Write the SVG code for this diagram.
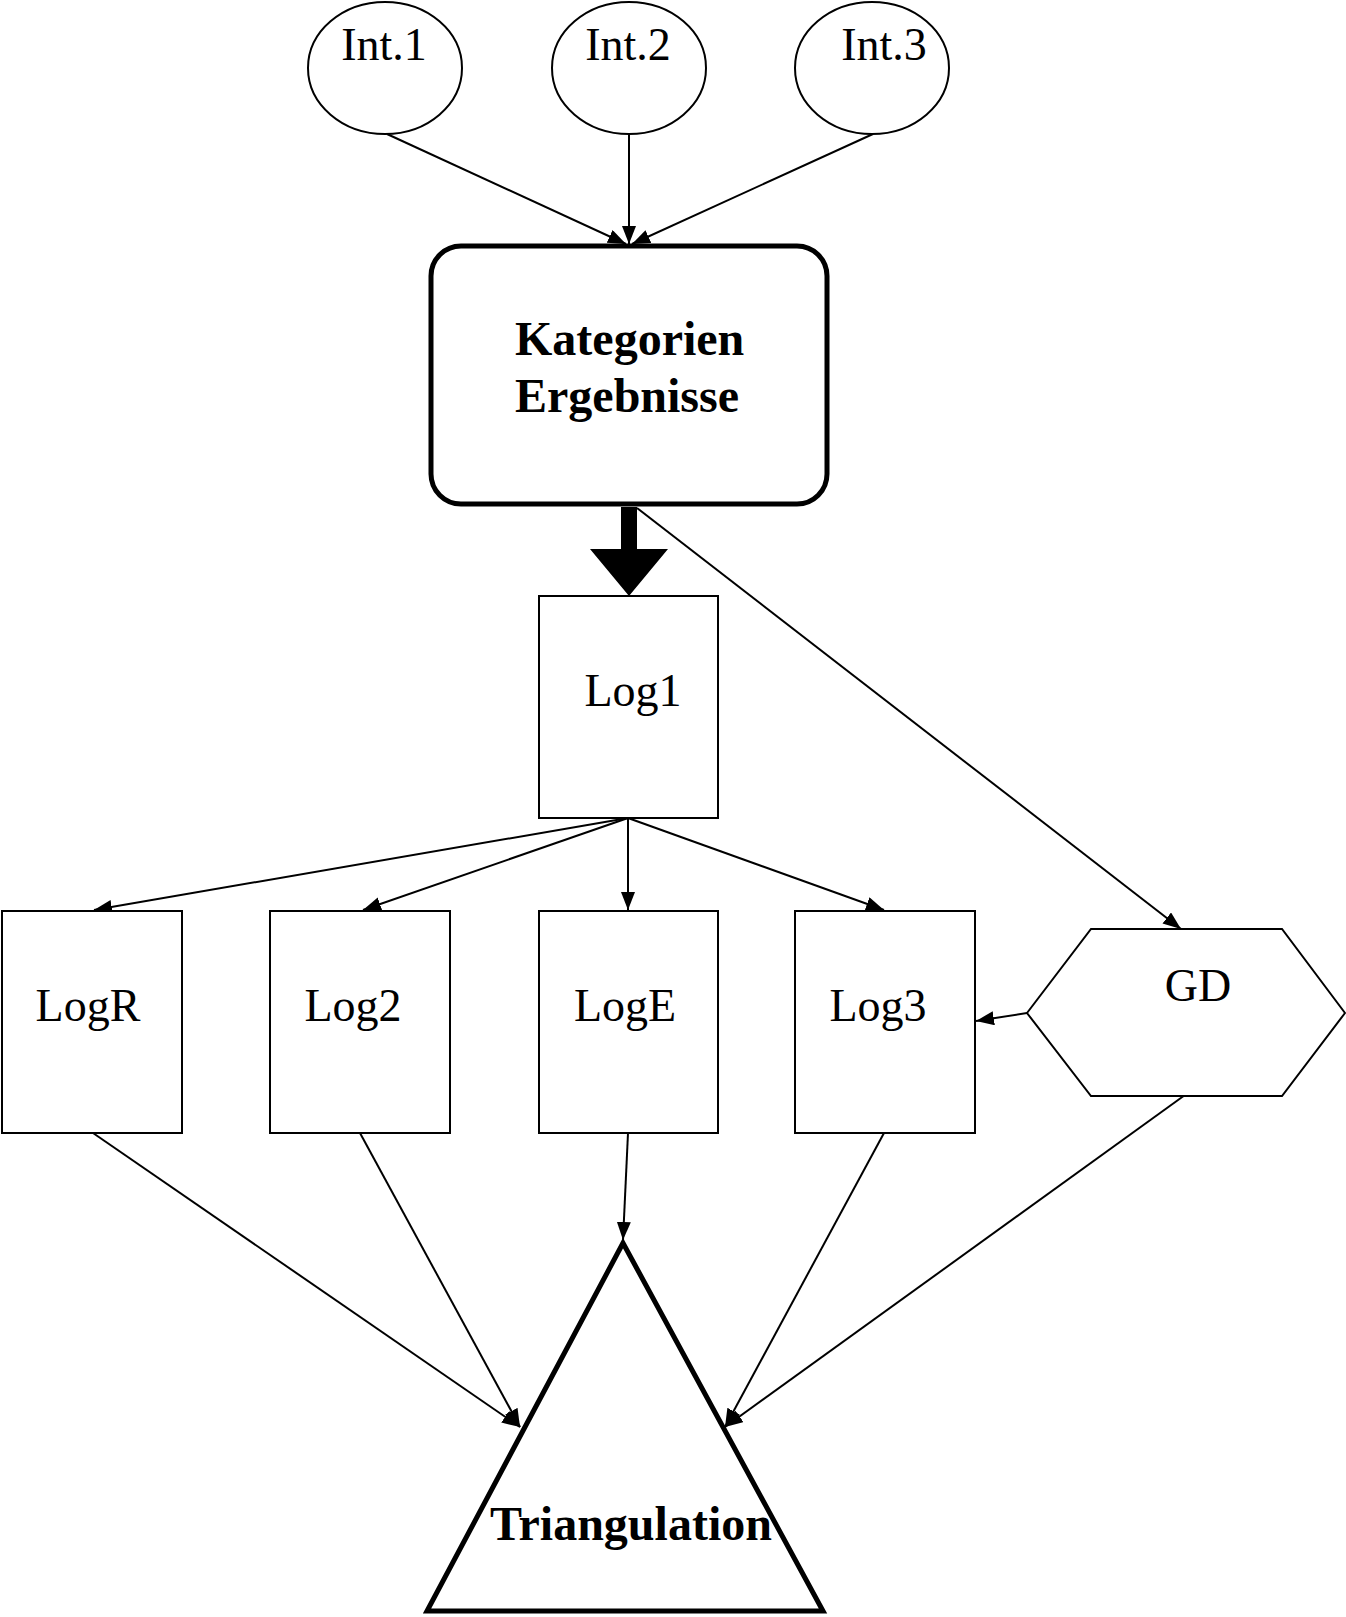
<svg xmlns="http://www.w3.org/2000/svg" width="1346" height="1617" viewBox="0 0 1346 1617">
<style>
.shape{fill:#fff;stroke:#000;stroke-width:2}
.thick{fill:#fff;stroke:#000;stroke-width:5}
.lbl{font-family:"Liberation Serif","Times New Roman",serif;font-size:46px;fill:#000;text-anchor:middle}
.bold{font-family:"Liberation Serif","Times New Roman",serif;font-size:48px;font-weight:bold;fill:#000}
.edge{stroke:#000;stroke-width:2;fill:none;marker-end:url(#ah)}
</style>
<defs>
<marker id="ah" markerUnits="userSpaceOnUse" markerWidth="20" markerHeight="16" refX="18" refY="7" orient="auto">
<path d="M0,0 L18,7 L0,14 z" fill="#000"/>
</marker>
</defs>
<rect width="1346" height="1617" fill="#fff"/>
<g id="connectors">
<line class="edge" x1="387" y1="134" x2="626" y2="244"/>
<line class="edge" x1="629" y1="134" x2="629" y2="244"/>
<line class="edge" x1="873" y1="134" x2="632" y2="244"/>
<line class="edge" x1="637" y1="508" x2="1181" y2="929"/>
<polygon points="621,507 637,507 637,549 668,549 629,596 590,549 621,549" fill="#000"/>
<line class="edge" x1="628" y1="818" x2="94" y2="910"/>
<line class="edge" x1="628" y1="818" x2="363" y2="910"/>
<line class="edge" x1="628" y1="818" x2="628" y2="910"/>
<line class="edge" x1="628" y1="818" x2="884" y2="910"/>
<line class="edge" x1="1027" y1="1013" x2="976" y2="1021"/>
<line class="edge" x1="93" y1="1133" x2="520" y2="1427"/>
<line class="edge" x1="360" y1="1133" x2="520" y2="1427"/>
<line class="edge" x1="628" y1="1133" x2="623" y2="1240"/>
<line class="edge" x1="884" y1="1133" x2="725" y2="1427"/>
<line class="edge" x1="1185" y1="1095" x2="725" y2="1427"/>
</g>
<g id="int1">
<ellipse class="shape" cx="385" cy="68" rx="77" ry="66"/>
<text class="lbl" x="384" y="60">Int.1</text>
</g>
<g id="int2">
<ellipse class="shape" cx="629" cy="68" rx="77" ry="66"/>
<text class="lbl" x="628" y="60">Int.2</text>
</g>
<g id="int3">
<ellipse class="shape" cx="872" cy="68" rx="77" ry="66"/>
<text class="lbl" x="884" y="60">Int.3</text>
</g>
<g id="kategorien">
<rect class="thick" x="431" y="246" width="396" height="258" rx="30" ry="30"/>
<text class="bold" x="515" y="355">Kategorien</text>
<text class="bold" x="515" y="412">Ergebnisse</text>
</g>
<g id="log1">
<rect class="shape" x="539" y="596" width="179" height="222"/>
<text class="lbl" x="633" y="706">Log1</text>
</g>
<g id="logR">
<rect class="shape" x="2" y="911" width="180" height="222"/>
<text class="lbl" x="88" y="1021">LogR</text>
</g>
<g id="log2">
<rect class="shape" x="270" y="911" width="180" height="222"/>
<text class="lbl" x="353" y="1021">Log2</text>
</g>
<g id="logE">
<rect class="shape" x="539" y="911" width="179" height="222"/>
<text class="lbl" x="625" y="1021">LogE</text>
</g>
<g id="log3">
<rect class="shape" x="795" y="911" width="180" height="222"/>
<text class="lbl" x="878" y="1021">Log3</text>
</g>
<g id="gd">
<polygon class="shape" points="1027,1013 1091,929 1282,929 1345,1013 1282,1096 1091,1096"/>
<text class="lbl" x="1198" y="1001">GD</text>
</g>
<g id="triangulation">
<polygon class="thick" points="623,1243 427,1611 823,1611" stroke-width="6"/>
<text class="bold" x="631" y="1540" text-anchor="middle">Triangulation</text>
</g>
</svg>
